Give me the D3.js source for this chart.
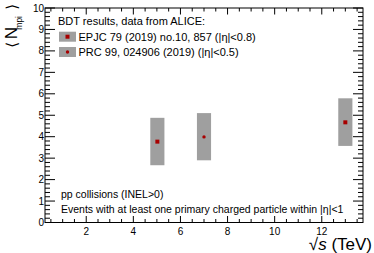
<!DOCTYPE html>
<html><head><meta charset="utf-8">
<script src="https://cdn.jsdelivr.net/npm/d3@7"></script>
<style>body{margin:0;background:#fff}svg{display:block;font-family:"Liberation Sans",Arial,sans-serif}</style>
</head><body><svg id="c" width="374" height="253"></svg>
<script>
// data
const epjcEnergy = [5.02, 13];
const epjcValue = [3.77, 4.67];
const epjcSysLow = [1.10, 1.10];
const epjcSysHigh = [1.11, 1.12];
const prcEnergy = [7];
const prcValue = [3.99];
const prcSysLow = [1.09];
const prcSysHigh = [1.11];
const xTickLabels = ["2", "4", "6", "8", "10", "12"];
const yTickLabels = ["0","1","2","3","4","5","6","7","8","9","10"];
const legendTitle = "BDT results, data from ALICE:";
const legendLabels = ["EPJC 79 (2019) no.10, 857 (|\u03b7|<0.8)", "PRC 99, 024906 (2019) (|\u03b7|<0.5)"];
const noteLines = ["pp collisions (INEL>0)", "Events with at least one primary charged particle within |\u03b7|<1"];

const svg = d3.select("#c");
const L = 45, R = 363, T = 8, B = 222.5;
const x = d3.scaleLinear().domain([0.25, 13.75]).range([L, R]);
const y = d3.scaleLinear().domain([0, 10]).range([B, T]);
const boxHalf = 0.3;
const grey = "#9f9f9f", red = "#a80000";

// boxes
function drawSeries(E, V, lo, hi, shape) {
  const g = svg.append("g");
  g.selectAll("rect.box").data(E).join("rect").attr("class","box")
    .attr("x", d => x(d - boxHalf)).attr("width", d => x(d + boxHalf) - x(d - boxHalf))
    .attr("y", (d,i) => y(V[i] + hi[i])).attr("height", (d,i) => y(V[i] - lo[i]) - y(V[i] + hi[i]))
    .attr("fill", grey);
  if (shape === "square") {
    g.selectAll("rect.m").data(E).join("rect").attr("class","m")
      .attr("x", d => x(d) - 2).attr("y", (d,i) => y(V[i]) - 2).attr("width", 4).attr("height", 4).attr("fill", red);
  } else {
    g.selectAll("circle").data(E).join("circle")
      .attr("cx", d => x(d)).attr("cy", (d,i) => y(V[i])).attr("r", 1.7).attr("fill", red);
  }
}
drawSeries(epjcEnergy, epjcValue, epjcSysLow, epjcSysHigh, "square");
drawSeries(prcEnergy, prcValue, prcSysLow, prcSysHigh, "circle");

// frame
svg.append("rect").attr("x", L).attr("y", T).attr("width", R - L).attr("height", B - T)
  .attr("fill", "none").attr("stroke", "#000").attr("stroke-width", 1);

// ticks
const xMinor = d3.range(0.5, 13.75, 0.5);
const yMinor = d3.range(0, 10.001, 0.2);
const tk = svg.append("g").attr("stroke", "#000").attr("stroke-width", 1);
xMinor.forEach(v => {
  const major = Math.abs(v % 2) < 1e-6;
  const len = major ? 6.5 : 3.5;
  tk.append("line").attr("x1", x(v)).attr("x2", x(v)).attr("y1", B).attr("y2", B - len);
  tk.append("line").attr("x1", x(v)).attr("x2", x(v)).attr("y1", T).attr("y2", T + len);
});
yMinor.forEach(v => {
  const major = Math.abs(v - Math.round(v)) < 1e-6;
  const len = major ? 10 : 5;
  tk.append("line").attr("y1", y(v)).attr("y2", y(v)).attr("x1", L).attr("x2", L + len);
  tk.append("line").attr("y1", y(v)).attr("y2", y(v)).attr("x1", R).attr("x2", R - len);
});

// tick labels
svg.append("g").selectAll("text").data(xTickLabels).join("text")
  .attr("x", d => x(+d)).attr("y", B + 12).attr("text-anchor", "middle")
  .attr("font-size", 10).text(d => d);
svg.append("g").selectAll("text").data(yTickLabels).join("text")
  .attr("x", L - 1).attr("y", d => y(+d) + 3.5).attr("text-anchor", "end")
  .attr("font-size", 10).text(d => d);

// axis titles
const xt = svg.append("text").attr("x", 372).attr("y", 250).attr("text-anchor", "end").attr("font-size", 17);
xt.append("tspan").text("\u221a");
xt.append("tspan").attr("font-style", "italic").text("s");
xt.append("tspan").text(" (TeV)");
const yt = svg.append("text").attr("transform", "translate(17,0) rotate(-90)").attr("text-anchor", "end").attr("font-size", 17);
yt.append("tspan").attr("x", -42).attr("y", 0).attr("font-family", "DejaVu Sans").attr("font-size", 15).text("\u27e8");
yt.append("tspan").attr("x", -27).attr("y", 0).text("N");
yt.append("tspan").attr("x", -16).attr("y", 5).attr("font-size", 8.5).text("mpi");
yt.append("tspan").attr("x", -4).attr("y", 0).attr("font-family", "DejaVu Sans").attr("font-size", 15).text("\u27e9");

// legend
svg.append("text").attr("x", 58).attr("y", 25).attr("font-size", 11).text(legendTitle);
const legY = [36.7, 52];
legendLabels.forEach((t, i) => {
  svg.append("rect").attr("x", 59).attr("y", legY[i] - 5).attr("width", 17).attr("height", 10).attr("fill", grey);
  if (i === 0) svg.append("rect").attr("x", 65.5).attr("y", legY[i] - 2).attr("width", 4).attr("height", 4).attr("fill", red);
  else svg.append("circle").attr("cx", 67.5).attr("cy", legY[i]).attr("r", 1.7).attr("fill", red);
  svg.append("text").attr("x", 78.5).attr("y", legY[i] + 4).attr("font-size", 11).text(t);
});

// notes
noteLines.forEach((t, i) => {
  svg.append("text").attr("x", 61).attr("y", 198 + i * 14.5).attr("font-size", 10.5).text(t);
});
</script></body></html>
